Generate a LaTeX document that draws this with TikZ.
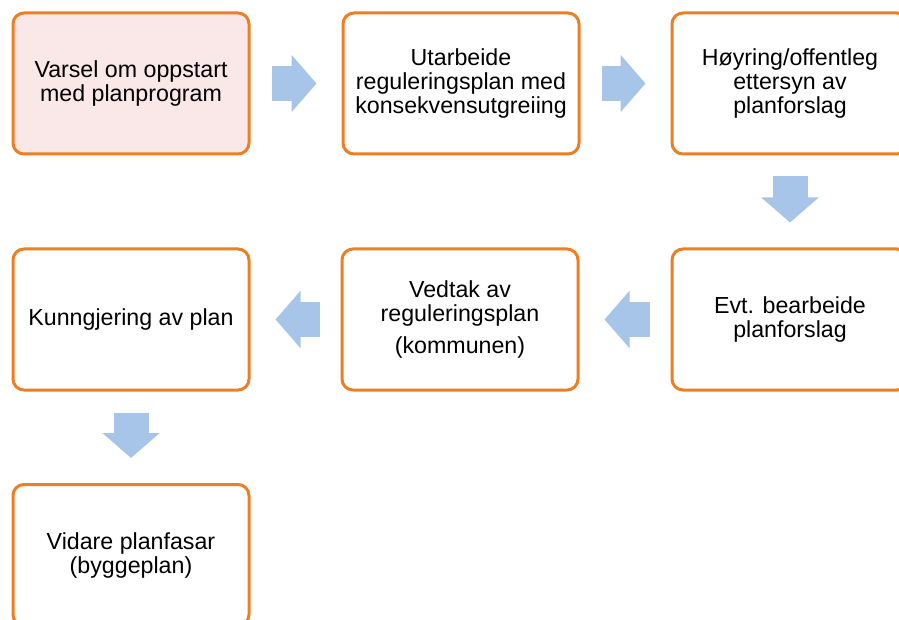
\documentclass[tikz,border=0pt]{standalone}
\usepackage{fontspec}
\setmainfont{Liberation Sans}
\usetikzlibrary{arrows.meta}
\definecolor{boxorange}{RGB}{238,126,34}
\definecolor{boxpink}{RGB}{250,231,231}
\definecolor{arrowblue}{RGB}{166,197,232}

\begin{document}
\begin{tikzpicture}[
    x=1pt, y=-1pt,
    stepbox/.style={draw=boxorange, line width=3pt, rounded corners=11pt, fill=white, minimum width=236pt, minimum height=141pt, align=center, inner sep=0pt, font=\fontsize{23.2}{24}\selectfont},
    startbox/.style={stepbox, fill=boxpink},
    flow/.style={arrowblue, line width=35pt, shorten <=21pt, shorten >=25pt, -{Triangle[width=56pt,length=25pt]}}
  ]
  \useasboundingbox (0,0) rectangle (899,620);
  \clip (0,0) rectangle (899,620);

  % Top row
  \node[startbox] (varsel) at (131,83.5) {Varsel om oppstart\\med planprogram};
  \node[stepbox] (utarbeide) at (461,83.5) {Utarbeide\\reguleringsplan med\\konsekvensutgreiing};
  \node[stepbox] (hoyring) at (790,83.5) {Høyring/offentleg\\ettersyn av\\planforslag};

  % Middle row
  \node[stepbox] (bearbeide) at (790,319.5) {Evt. bearbeide\\planforslag};
  \node[stepbox] (vedtak) at (460,319.5) {Vedtak av\\reguleringsplan\\[8pt](kommunen)};
  \node[stepbox] (kunngjering) at (131,319.5) {Kunngjering av plan};

  % Bottom row
  \node[stepbox] (vidare) at (131,555) {Vidare planfasar\\(byggeplan)};

  % Arrows
  \draw[flow] (varsel.east) -- (utarbeide.west);
  \draw[flow] (utarbeide.east) -- (hoyring.west);
  \draw[flow] (hoyring.south) -- (bearbeide.north);
  \draw[flow] (bearbeide.west) -- (vedtak.east);
  \draw[flow] (vedtak.west) -- (kunngjering.east);
  \draw[flow] (kunngjering.south) -- (vidare.north);
\end{tikzpicture}
\end{document}
